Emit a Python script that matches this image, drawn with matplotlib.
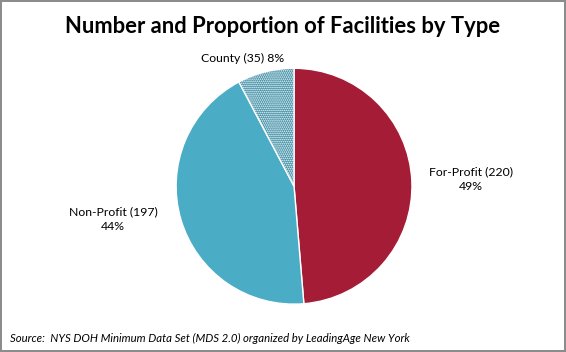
import numpy as np
import matplotlib.pyplot as plt

# data
types = ['For-Profit', 'Non-Profit', 'County']
counts = [220, 197, 35]
colors = ['#A51C36', '#4BACC6', '#4BACC6']

plt.rcParams['hatch.linewidth'] = 0.8

fig = plt.figure(figsize=(5.66, 3.52), dpi=100)
fig.patch.set_edgecolor('#8c8c8c')
fig.patch.set_linewidth(1.5)

ax = fig.add_axes([0.311, 0.136, 0.417, 0.670])
wedges, _ = ax.pie(counts, colors=colors, startangle=90, counterclock=False,
                   wedgeprops=dict(edgecolor='white', linewidth=1))
# county slice is dotted
wedges[2].set_facecolor('#3e8ea6')
wedges[2].set_hatch('........')
wedges[2].set_edgecolor('white')
ax.set_xlim(-1, 1)
ax.set_ylim(-1, 1)
ax.set_aspect('equal')

total = sum(counts)
# label positions (distance from centre, angle shift in degrees)
label_pos = [(1.5, 0), (1.56, -6), (1.17, 8)]
for w, n, c, (d, sh) in zip(wedges, types, counts, label_pos):
    mid = np.deg2rad((w.theta1 + w.theta2) / 2 + sh)
    pct = '%d%%' % round(100 * c / total)
    if n == 'County':
        txt = '%s (%d) %s' % (n, c, pct)
    else:
        txt = '%s (%d)\n%s' % (n, c, pct)
    ax.text(d * np.cos(mid), d * np.sin(mid), txt, ha='center', va='center',
            fontsize=8.8, family='Lato', linespacing=1.4)

fig.text(0.5, 0.925, 'Number and Proportion of Facilities by Type', ha='center',
         va='center', fontsize=15.8, fontweight='bold', family='Lato')
fig.text(0.018, 0.037, 'Source:  NYS DOH Minimum Data Set (MDS 2.0) organized by LeadingAge New York',
         ha='left', va='center', fontsize=8.2, style='italic', family='Lato')

fig.savefig('out.png', dpi=100, edgecolor=fig.get_edgecolor())
